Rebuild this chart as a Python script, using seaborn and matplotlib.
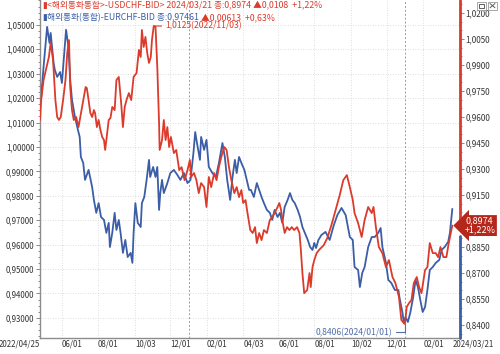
import numpy as np
import pandas as pd
import matplotlib
matplotlib.use("Agg")
import matplotlib.pyplot as plt
import matplotlib.transforms as mtransforms
from matplotlib.patches import Rectangle
from matplotlib.lines import Line2D
from matplotlib.ticker import FuncFormatter, MultipleLocator
import seaborn as sns

# ---------------------------------------------------------------
# Data
EUR_DATES = [
    "2022-04-25", "2022-04-27", "2022-05-01", "2022-05-07", "2022-05-11", "2022-05-13", "2022-05-18",
    "2022-05-20", "2022-05-24", "2022-05-29", "2022-06-01", "2022-06-04", "2022-06-08", "2022-06-12",
    "2022-06-15", "2022-06-18", "2022-06-23", "2022-06-28", "2022-07-01", "2022-07-03", "2022-07-07",
    "2022-07-10", "2022-07-16", "2022-07-22", "2022-07-25", "2022-07-29", "2022-08-02", "2022-08-06",
    "2022-08-11", "2022-08-15", "2022-08-19", "2022-08-21", "2022-08-25", "2022-08-29", "2022-09-01",
    "2022-09-05", "2022-09-08", "2022-09-12", "2022-09-16", "2022-09-20", "2022-09-25", "2022-09-28",
    "2022-09-30", "2022-10-03", "2022-10-07", "2022-10-12", "2022-10-14", "2022-10-18", "2022-10-22",
    "2022-10-26", "2022-10-28", "2022-11-02", "2022-11-06", "2022-11-09", "2022-11-12", "2022-11-14",
    "2022-11-17", "2022-11-20", "2022-11-26", "2022-12-01", "2022-12-07", "2022-12-13", "2022-12-18",
    "2022-12-24", "2022-12-30", "2023-01-04", "2023-01-09", "2023-01-12", "2023-01-15", "2023-01-20",
    "2023-01-22", "2023-01-27", "2023-01-31", "2023-02-04", "2023-02-10", "2023-02-16", "2023-02-21",
    "2023-02-27", "2023-03-03", "2023-03-07", "2023-03-12", "2023-03-16", "2023-03-20", "2023-03-23",
    "2023-03-27", "2023-03-31", "2023-04-05", "2023-04-09", "2023-04-13", "2023-04-16", "2023-04-21",
    "2023-04-26", "2023-04-30", "2023-05-04", "2023-05-08", "2023-05-13", "2023-05-18", "2023-05-22",
    "2023-05-26", "2023-05-31", "2023-06-04", "2023-06-08", "2023-06-12", "2023-06-17", "2023-06-21",
    "2023-06-25", "2023-06-29", "2023-07-04", "2023-07-08", "2023-07-12", "2023-07-16", "2023-07-21",
    "2023-07-25", "2023-07-29", "2023-08-01", "2023-08-04", "2023-08-08", "2023-08-13", "2023-08-20",
    "2023-08-27", "2023-09-03", "2023-09-09", "2023-09-16", "2023-09-23", "2023-09-30", "2023-10-05",
    "2023-10-08", "2023-10-14", "2023-10-17", "2023-10-21", "2023-10-25", "2023-10-31", "2023-11-06",
    "2023-11-11", "2023-11-17", "2023-11-21", "2023-11-24", "2023-11-30", "2023-12-04", "2023-12-09",
    "2023-12-15", "2023-12-21", "2023-12-23", "2023-12-28", "2023-12-30", "2024-01-02", "2024-01-06",
    "2024-01-10", "2024-01-15", "2024-01-19", "2024-01-23", "2024-01-27", "2024-01-31", "2024-02-04",
    "2024-02-08", "2024-02-12", "2024-02-17", "2024-02-22", "2024-02-28", "2024-03-03", "2024-03-08",
    "2024-03-14", "2024-03-17", "2024-03-21",
]
EUR_VALUES = [
    1.0266, 1.0205, 1.0328, 1.0492, 1.0426, 1.0467, 1.0344,
    1.0316, 1.0287, 1.0307, 1.0262, 1.0357, 1.0480, 1.0410,
    1.0275, 1.0193, 1.0123, 1.0070, 1.0041, 0.9959, 0.9934,
    0.9865, 0.9906, 0.9836, 0.9783, 0.9730, 0.9770, 0.9713,
    0.9701, 0.9648, 0.9689, 0.9590, 0.9648, 0.9730, 0.9660,
    0.9701, 0.9648, 0.9566, 0.9619, 0.9549, 0.9566, 0.9525,
    0.9648, 0.9770, 0.9689, 0.9672, 0.9770, 0.9795, 0.9865,
    0.9947, 0.9877, 0.9918, 0.9877, 0.9918, 0.9742, 0.9811,
    0.9865, 0.9811, 0.9852, 0.9893, 0.9906, 0.9885, 0.9865,
    0.9893, 0.9852, 0.9865, 0.9975, 1.0061, 1.0016, 0.9947,
    1.0041, 0.9988, 1.0029, 0.9918, 0.9893, 0.9877, 0.9934,
    1.0016, 0.9959, 0.9865, 0.9783, 0.9877, 0.9947, 0.9893,
    0.9959, 0.9934, 0.9906, 0.9865, 0.9824, 0.9824, 0.9795,
    0.9852, 0.9824, 0.9795, 0.9770, 0.9742, 0.9730, 0.9701,
    0.9742, 0.9713, 0.9730, 0.9689, 0.9754, 0.9783, 0.9811,
    0.9783, 0.9770, 0.9742, 0.9713, 0.9672, 0.9648, 0.9619,
    0.9590, 0.9578, 0.9607, 0.9586, 0.9619, 0.9639, 0.9652,
    0.9619, 0.9680, 0.9721, 0.9750, 0.9721, 0.9631, 0.9619,
    0.9508, 0.9496, 0.9426, 0.9484, 0.9508, 0.9590, 0.9631,
    0.9631, 0.9648, 0.9668, 0.9590, 0.9525, 0.9455, 0.9443,
    0.9414, 0.9414, 0.9381, 0.9320, 0.9279, 0.9303, 0.9283,
    0.9320, 0.9385, 0.9455, 0.9426, 0.9373, 0.9324, 0.9344,
    0.9414, 0.9496, 0.9508, 0.9525, 0.9537, 0.9578, 0.9590,
    0.9611, 0.9648, 0.97461,
]

USD_DATES = [
    "2022-04-25", "2022-04-27", "2022-05-01", "2022-05-06", "2022-05-10", "2022-05-13", "2022-05-17",
    "2022-05-19", "2022-05-21", "2022-05-24", "2022-05-27", "2022-05-30", "2022-06-03", "2022-06-07",
    "2022-06-10", "2022-06-13", "2022-06-15", "2022-06-18", "2022-06-21", "2022-06-25", "2022-06-29",
    "2022-07-02", "2022-07-07", "2022-07-11", "2022-07-13", "2022-07-16", "2022-07-19", "2022-07-22",
    "2022-07-25", "2022-07-27", "2022-07-30", "2022-08-02", "2022-08-05", "2022-08-08", "2022-08-11",
    "2022-08-13", "2022-08-16", "2022-08-19", "2022-08-22", "2022-08-25", "2022-08-29", "2022-09-01",
    "2022-09-05", "2022-09-09", "2022-09-12", "2022-09-15", "2022-09-18", "2022-09-22", "2022-09-26",
    "2022-09-30", "2022-10-05", "2022-10-09", "2022-10-12", "2022-10-14", "2022-10-17", "2022-10-20",
    "2022-10-23", "2022-10-26", "2022-10-29", "2022-10-31", "2022-11-03", "2022-11-06", "2022-11-09",
    "2022-11-12", "2022-11-13", "2022-11-17", "2022-11-20", "2022-11-23", "2022-11-26", "2022-11-29",
    "2022-12-02", "2022-12-07", "2022-12-11", "2022-12-16", "2022-12-20", "2022-12-25", "2022-12-30",
    "2023-01-03", "2023-01-05", "2023-01-10", "2023-01-14", "2023-01-18", "2023-01-22", "2023-01-27",
    "2023-01-31", "2023-02-04", "2023-02-08", "2023-02-13", "2023-02-17", "2023-02-21", "2023-02-25",
    "2023-03-02", "2023-03-06", "2023-03-10", "2023-03-14", "2023-03-19", "2023-03-23", "2023-03-27",
    "2023-03-31", "2023-04-03", "2023-04-07", "2023-04-10", "2023-04-15", "2023-04-19", "2023-04-23",
    "2023-04-26", "2023-04-30", "2023-05-04", "2023-05-08", "2023-05-13", "2023-05-18", "2023-05-22",
    "2023-05-26", "2023-05-31", "2023-06-03", "2023-06-06", "2023-06-08", "2023-06-12", "2023-06-16",
    "2023-06-20", "2023-06-24", "2023-06-28", "2023-07-03", "2023-07-07", "2023-07-09", "2023-07-12",
    "2023-07-15", "2023-07-20", "2023-07-24", "2023-07-26", "2023-07-29", "2023-08-01", "2023-08-05",
    "2023-08-09", "2023-08-17", "2023-08-23", "2023-08-30", "2023-09-06", "2023-09-13", "2023-09-19",
    "2023-09-25", "2023-09-30", "2023-10-05", "2023-10-08", "2023-10-14", "2023-10-20", "2023-10-25",
    "2023-10-31", "2023-11-06", "2023-11-09", "2023-11-13", "2023-11-18", "2023-11-24", "2023-11-30",
    "2023-12-05", "2023-12-11", "2023-12-16", "2023-12-22", "2023-12-26", "2024-01-01", "2024-01-04",
    "2024-01-08", "2024-01-12", "2024-01-16", "2024-01-21", "2024-01-25", "2024-01-29", "2024-02-04",
    "2024-02-08", "2024-02-12", "2024-02-17", "2024-02-22", "2024-02-26", "2024-03-01", "2024-03-06",
    "2024-03-11", "2024-03-15", "2024-03-21",
]
USD_VALUES = [
    0.9583, 0.9698, 0.9813, 0.9888, 0.9946, 1.0027, 0.9929,
    0.9813, 0.9698, 0.9600, 0.9583, 0.9600, 0.9698, 0.9813,
    0.9969, 1.0044, 0.9773, 0.9640, 0.9583, 0.9600, 0.9542,
    0.9600, 0.9698, 0.9773, 0.9767, 0.9698, 0.9623, 0.9600,
    0.9640, 0.9623, 0.9542, 0.9583, 0.9525, 0.9485, 0.9467,
    0.9410, 0.9496, 0.9583, 0.9595, 0.9658, 0.9640, 0.9813,
    0.9831, 0.9681, 0.9542, 0.9658, 0.9698, 0.9738, 0.9698,
    0.9831, 0.9854, 0.9987, 0.9946, 1.0102, 1.0004, 1.0062,
    0.9969, 0.9912, 0.9946, 1.0044, 1.0125, 1.0119, 0.9888,
    0.9565, 0.9410, 0.9467, 0.9583, 0.9467, 0.9542, 0.9427,
    0.9485, 0.9392, 0.9410, 0.9294, 0.9311, 0.9236, 0.9294,
    0.9352, 0.9254, 0.9277, 0.9236, 0.9161, 0.9219, 0.9196,
    0.9081, 0.9254, 0.9196, 0.9277, 0.9236, 0.9311, 0.9369,
    0.9427, 0.9410, 0.9311, 0.9236, 0.9161, 0.9196, 0.9138,
    0.9179, 0.9104, 0.9121, 0.9052, 0.8948, 0.8931, 0.8965,
    0.8873, 0.8931, 0.8890, 0.8948, 0.8931, 0.9006, 0.9023,
    0.9046, 0.9081, 0.9104, 0.9063, 0.9006, 0.8931, 0.8965,
    0.8948, 0.8965, 0.8948, 0.8965, 0.8931, 0.8850, 0.8700,
    0.8584, 0.8602, 0.8700, 0.8619, 0.8734, 0.8775, 0.8815,
    0.8833, 0.8861, 0.8902, 0.8977, 0.9063, 0.9150, 0.9236,
    0.9265, 0.9196, 0.9121, 0.9046, 0.8988, 0.8908, 0.9006,
    0.9081, 0.9046, 0.9081, 0.8965, 0.8850, 0.8815, 0.8734,
    0.8775, 0.8677, 0.8642, 0.8561, 0.8429, 0.8406, 0.8504,
    0.8527, 0.8544, 0.8642, 0.8677, 0.8619, 0.8584, 0.8717,
    0.8734, 0.8873, 0.8815, 0.8815, 0.8792, 0.8850, 0.8792,
    0.8792, 0.8873, 0.8974,
]

TICK_DATES = ["2022-04-25", "2022-06-01", "2022-08-01", "2022-10-03", "2022-12-01",
              "2023-02-01", "2023-04-03", "2023-06-01", "2023-08-01", "2023-10-02",
              "2023-12-01", "2024-02-01", "2024-03-21"]
TICK_LABELS = ["2022/04/25", "06/01", "08/01", "10/03", "12/01", "02/01", "04/03",
               "06/01", "08/01", "10/02", "12/01", "02/01", "2024/03/21"]
YEAR_LINES = ["2023-01-01", "2024-01-01"]

TITLE_USD = "<해외통화통합>-USDCHF-BID> 2024/03/21 종:0,8974 "
CHG_USD = "▲0,0108  +1,22%"
TITLE_EUR = "해외통화(통합)-EURCHF-BID 종:0,97461 "
CHG_EUR = "▲0,00613  +0,63%"

RED = "#dc3a2a"
BLUE = "#3b5ea6"
FONTS = ["Noto Sans CJK KR", "DejaVu Sans"]

# ---------------------------------------------------------------
sns.set_style("white")
plt.rcParams["font.family"] = FONTS

eur = pd.DataFrame({"date": pd.to_datetime(EUR_DATES), "value": EUR_VALUES})
usd = pd.DataFrame({"date": pd.to_datetime(USD_DATES), "value": USD_VALUES})

fig = plt.figure(figsize=(5.0, 3.54), dpi=100)
ax = fig.add_axes([0.08, 0.045, 0.84, 0.955])
ax2 = ax.twinx()

# grid
for v in np.arange(0.93, 1.0501, 0.01):
    ax.axhline(v, color="#d4d4d4", lw=0.6, ls=(0, (1, 2)), zorder=0)
for d in TICK_DATES[1:-1]:
    ax.axvline(pd.Timestamp(d), color="#d4d4d4", lw=0.6, ls=(0, (1, 2)), zorder=0)
for d in YEAR_LINES:
    ax.axvline(pd.Timestamp(d), color="#9a9a9a", lw=0.7, ls=(0, (2, 2)), zorder=0)

sns.lineplot(data=eur, x="date", y="value", ax=ax, color=BLUE, lw=1.3, estimator=None)
sns.lineplot(data=usd, x="date", y="value", ax=ax2, color=RED, lw=1.3, estimator=None)

ax.set_xlim(pd.Timestamp("2022-04-25"), pd.Timestamp("2024-04-03"))
ax.set_ylim(0.9217, 1.0602)
ax2.set_ylim(0.8325, 1.0275)

for a in (ax, ax2):
    a.set_xlabel("")
    a.set_ylabel("")

# x ticks
ax.set_xticks(pd.to_datetime(TICK_DATES))
ax.set_xticklabels(TICK_LABELS)
shift = mtransforms.ScaledTranslation(3.5 / 72, 0, fig.dpi_scale_trans)
for i, lab in enumerate(ax.get_xticklabels()):
    if i == 0:
        lab.set_ha("right")
        lab.set_transform(lab.get_transform() + shift)
    else:
        lab.set_ha("left")
ax.tick_params(axis="x", length=3, width=0.6, color="#777777", labelsize=5.7,
               labelcolor="#333333", pad=1, direction="in")

# left y
ax.set_yticks(np.arange(0.93, 1.0501, 0.01))
ax.yaxis.set_major_formatter(FuncFormatter(lambda v, p: f"{v:.5f}".replace(".", ",")))
ax.yaxis.set_minor_locator(MultipleLocator(0.0025))
ax.tick_params(axis="y", which="major", length=3, width=0.6, color="#777777",
               labelsize=5.7, labelcolor="#333333", pad=1)
ax.tick_params(axis="y", which="minor", length=1.5, width=0.6, color="#777777", left=True)

# right y (the 0,9000 label sits under the last-value badge)
ax2.set_yticks(np.arange(0.84, 1.0201, 0.015))
ax2.yaxis.set_major_formatter(FuncFormatter(
    lambda v, p: "" if abs(v - 0.90) < 1e-6 else f"{v:.4f}".replace(".", ",")))
ax2.yaxis.set_minor_locator(MultipleLocator(0.005))
ax2.tick_params(axis="y", which="major", length=3, width=0.6, color="#777777",
                labelsize=5.8, labelcolor="#333333", pad=1)
ax2.tick_params(axis="y", which="minor", length=1.5, width=0.6, color="#777777", right=True)

for s in ["top", "right"]:
    ax.spines[s].set_visible(False)
for s in ["left", "bottom"]:
    ax.spines[s].set_color("#8c8c8c")
    ax.spines[s].set_linewidth(1.0)
for s in ax2.spines.values():
    s.set_visible(False)

# two-coloured right axis line
split = (0.8974 - 0.8325) / (1.0275 - 0.8325)
ax2.plot([1, 1], [split, 1], transform=ax2.transAxes, color=RED, lw=2, clip_on=False)
ax2.plot([1, 1], [0, split - 0.03], transform=ax2.transAxes, color=BLUE, lw=2, clip_on=False)

# last value badge
blend = mtransforms.blended_transform_factory(ax2.transAxes, ax2.transData)
ax2.text(1.047, 0.8974, "0,8974\n+1,22%", transform=blend, ha="center", va="center",
         color="white", fontsize=6.5, linespacing=0.95, zorder=10,
         bbox=dict(boxstyle="larrow,pad=0.18", fc="#b5261b", ec="none"))

# annotations
ax2.annotate("1,0125(2022/11/03)", xy=(pd.Timestamp("2022-11-03"), 1.0125),
             xytext=(8, 0), textcoords="offset points", va="center", ha="left",
             fontsize=6.2, color=RED,
             arrowprops=dict(arrowstyle="-", color=RED, lw=0.8, shrinkA=0, shrinkB=0))
ax2.annotate("0,8406(2024/01/01)", xy=(pd.Timestamp("2024-01-01"), 0.8406),
             xytext=(-9, -6), textcoords="offset points", va="center", ha="right",
             fontsize=6.2, color="#4f6fa8",
             arrowprops=dict(arrowstyle="-", color="#4f6fa8", lw=0.8, shrinkA=0, shrinkB=0,
                             connectionstyle="angle,angleA=0,angleB=90,rad=0"))

# header lines
fig.text(0.084, 0.985, "▮", color=RED, fontsize=6.2, va="center")
fig.text(0.094, 0.985, TITLE_USD + CHG_USD, color=RED, fontsize=6.3, va="center")
fig.text(0.084, 0.951, "▮", color=BLUE, fontsize=6.2, va="center")
txt = fig.text(0.094, 0.951, TITLE_EUR, color=BLUE, fontsize=6.3, va="center")
fig.canvas.draw()
bb = txt.get_window_extent().transformed(fig.transFigure.inverted())
fig.text(bb.x1, 0.951, CHG_EUR, color=RED, fontsize=6.3, va="center")

# little window buttons in the top-right corner (drawn, no text)
for x0 in (0.954, 0.976):
    fig.patches.append(Rectangle((x0, 0.973), 0.018, 0.022, transform=fig.transFigure,
                                 fc="white", ec="#9a9a9a", lw=0.6))
fig.patches.append(Rectangle((0.958, 0.978), 0.010, 0.010, transform=fig.transFigure,
                             fc="none", ec="#444444", lw=0.6))
fig.lines.append(Line2D([0.980, 0.990], [0.978, 0.990], transform=fig.transFigure,
                        color="#444444", lw=0.6))
fig.lines.append(Line2D([0.980, 0.990], [0.990, 0.978], transform=fig.transFigure,
                        color="#444444", lw=0.6))

fig.savefig("out.png", dpi=100)
